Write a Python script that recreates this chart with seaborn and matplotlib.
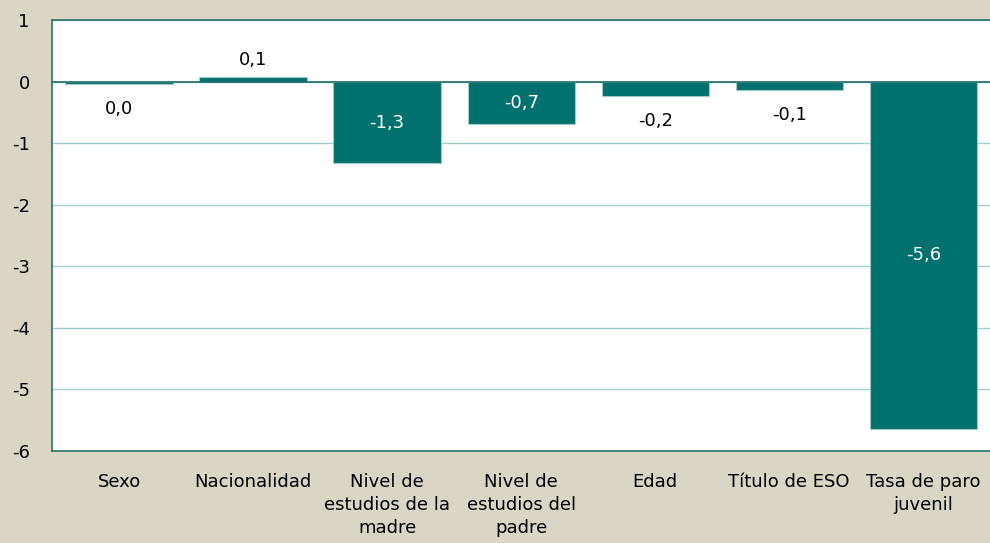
"""Bar chart of effects by variable, recreated with seaborn."""
import matplotlib
matplotlib.use('Agg')
import matplotlib.pyplot as plt
import seaborn as sns

# data
categories = ['Sexo', 'Nacionalidad', 'Nivel de\nestudios de la\nmadre',
              'Nivel de\nestudios del\npadre', 'Edad', 'Título de ESO',
              'Tasa de paro\njuvenil']
values = [-0.04, 0.08, -1.33, -0.69, -0.23, -0.14, -5.64]
labels = ['0,0', '0,1', '-1,3', '-0,7', '-0,2', '-0,1', '-5,6']
inside = [False, False, True, True, False, False, True]  # white label in bar

teal = '#00716e'
beige = '#dad5c4'
fs = 13

sns.set_style('white')
plt.rcParams['font.family'] = ['DejaVu Sans']
plt.rcParams['text.color'] = 'black'

fig = plt.figure(figsize=(9.9, 5.43), dpi=100, facecolor=beige)
ax = fig.add_axes([52 / 990, 1 - 451 / 543, 945 / 990, 431 / 543])
ax.set_facecolor('white')

sns.barplot(x=categories, y=values, color=teal, width=0.8, saturation=1,
            edgecolor='#9fc9c6', linewidth=0.8, ax=ax, zorder=3)

ax.set_ylim(-6, 1)
ax.set_yticks(range(-6, 2))
ax.set_yticklabels([str(t) for t in range(-6, 2)])
ax.set_xlim(-0.5, 6.55)
ax.yaxis.grid(True, color='#9fcccc', linewidth=1, zorder=0)
ax.axhline(0, color='#1f6a66', linewidth=1.2, zorder=4)

for side in ['left', 'top', 'bottom']:
    ax.spines[side].set_color('#2a6e6a')
    ax.spines[side].set_linewidth(1.2)
ax.spines['right'].set_visible(False)

ax.tick_params(axis='both', length=0, labelsize=fs, colors='black')
ax.tick_params(axis='x', pad=16)
ax.tick_params(axis='y', pad=16)
for t in ax.get_xticklabels():
    t.set_linespacing(1.35)
ax.set_xlabel('')
ax.set_ylabel('')

# value labels: inside (white) for big bars, outside (black) otherwise
for i, (v, lab, inn) in enumerate(zip(values, labels, inside)):
    if inn:
        ax.text(i, v / 2, lab, ha='center', va='center', color='white',
                fontsize=fs, zorder=5)
    elif v >= 0:
        ax.annotate(lab, (i, v), xytext=(0, 17), textcoords='offset pixels',
                    ha='center', va='center', fontsize=fs, color='black',
                    zorder=5)
    else:
        ax.annotate(lab, (i, v), xytext=(0, -25), textcoords='offset pixels',
                    ha='center', va='center', fontsize=fs, color='black',
                    zorder=5)

fig.savefig('out.png', dpi=100, facecolor=beige)
